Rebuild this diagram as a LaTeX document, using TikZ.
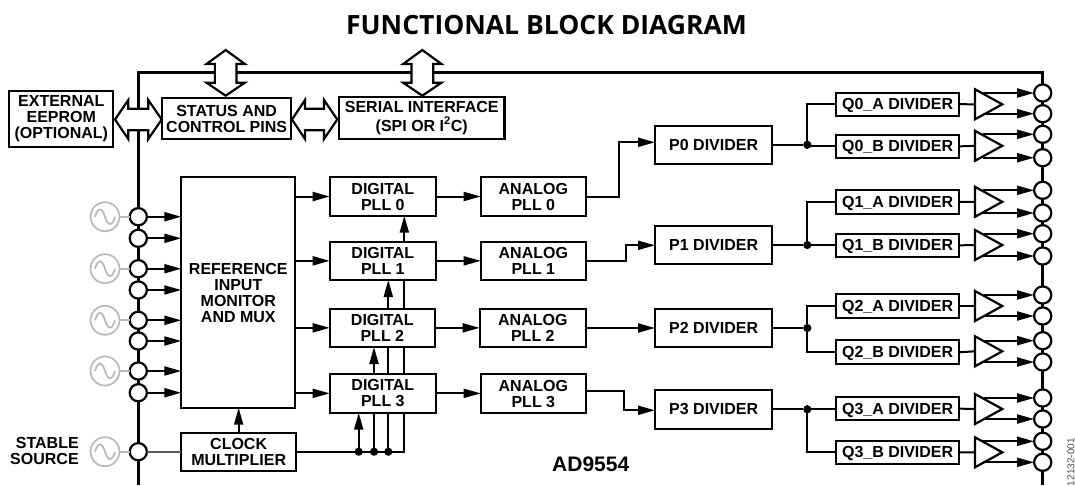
\documentclass[tikz,border=0pt]{standalone}
\usepackage{fontspec}
\setmainfont{Liberation Sans}
\newfontfamily\titlefont{Open Sans}
\usetikzlibrary{arrows.meta,calc,shapes.geometric}
\definecolor{oscgray}{HTML}{B9B9B9}
\newcommand{\blk}[6]{%
  \pgfmathsetmacro{\bw}{#4-#2}\pgfmathsetmacro{\bh}{#5-#3}%
  \pgfmathsetmacro{\bx}{(#2+#4)/2}\pgfmathsetmacro{\by}{(#3+#5)/2}%
  \node[blockbox,minimum width=\bw pt,minimum height=\bh pt] (#1) at (\bx,\by) {#6};}
\newcommand{\nodepth}[1]{\raisebox{0pt}[\height][0pt]{#1}}
\newcommand{\outarrow}[2]{%
  \coordinate (s#2) at ($(#1.lower side)+(7.5,0)$);
  \draw[arr] (s#2 |- #2) -- (#2);}
\newcommand{\sinewave}[1]{%
  \draw[oscline] ($(#1)+(-10,0)$) .. controls ($(#1)+(-6.5,-11.5)$) and ($(#1)+(-2.5,-8)$) .. ($(#1)$)
     .. controls ($(#1)+(2.5,8)$) and ($(#1)+(6.5,11.5)$) .. ($(#1)+(10,0)$);}
% vertical bus arrow: centre x
\newcommand{\vbus}[1]{%
  \draw[bigarrow] (#1,50) -- ++(19.15,14) -- ++(-8.3,0) -- ++(0,18.7) -- ++(8.3,0)
    -- (#1,95.7) -- ++(-19.15,-13) -- ++(8.3,0) -- ++(0,-18.7) -- ++(-8.3,0) -- cycle;}
% horizontal bus arrow: left tip, head end, head start, right tip
\newcommand{\hbus}[4]{%
  \draw[bigarrow] (#1,119.5) -- (#2,100) -- (#2,108.7) -- (#3,108.7) -- (#3,100) -- (#4,119.5)
    -- (#3,139) -- (#3,130.3) -- (#2,130.3) -- (#2,139) -- cycle;}
\tikzset{
  x=1pt,y=-1pt,
  blockbox/.style={draw,line width=2.2pt,fill=white,inner sep=0pt,outer sep=0pt,align=center,
    font=\fontsize{16}{16}\selectfont\bfseries},
  wire/.style={line width=2pt},
  arr/.style={wire,-{Triangle[length=17pt,width=9pt]}},
  frameline/.style={line width=2.6pt},
  port/.style={circle,draw,line width=2.2pt,fill=white,minimum size=17.2pt,inner sep=0pt,outer sep=0pt},
  osc/.style={circle,draw=oscgray,line width=1.7pt,fill=white,minimum size=29pt,inner sep=0pt,outer sep=0pt},
  oscline/.style={draw=oscgray,line width=1.7pt},
  dot/.style={circle,fill,minimum size=8.2pt,inner sep=0pt,outer sep=0pt},
  amp/.style={isosceles triangle,isosceles triangle stretches,draw,line width=2.2pt,fill=white,
    minimum width=30pt,minimum height=27.3pt,inner sep=0pt,outer sep=0pt,anchor=lower side},
  bigarrow/.style={draw,line width=2.2pt,fill=white,line join=miter},
  lbl/.style={inner sep=0pt,outer sep=0pt,align=right,font=\fontsize{16}{16}\selectfont\bfseries},
}
\begin{document}
\begin{tikzpicture}
\useasboundingbox (0,0) rectangle (1075,485);
% frame
\coordinate (fbl) at (138.3,485);
\coordinate (ftl) at (138.3,72.5);
\coordinate (ftr) at (1042.7,72.5);
\coordinate (fbr) at (1042.7,485);
\draw[frameline] (fbl) -- (ftl) -- (ftr) -- (fbr);
% title
\node[inner sep=0pt] (title) at (546.5,25) {\titlefont\fontsize{26.5}{26.5}\selectfont\bfseries FUNCTIONAL BLOCK DIAGRAM};
% big arrows
\vbus{225.7}
\vbus{422.3}
\hbus{115}{128.3}{148.3}{161.7}
\hbus{292}{305}{324}{337.3}
% blocks
\blk{eeprom}{9.3}{91}{113.3}{146.7}{EXTERNAL\\EEPROM\\(OPTIONAL)}
\blk{status}{162}{98.3}{291.3}{139}{STATUS AND\\CONTROL PINS}
\blk{serial}{339}{97}{504.5}{139}{SERIAL INTERFACE\\[2.4pt](SPI OR I\textsuperscript{2}C)}
\blk{ref}{181.3}{177.3}{295.3}{407.7}{REFERENCE\\INPUT\\MONITOR\\AND MUX}
\blk{clk}{181.3}{432.7}{296}{470.7}{CLOCK\\MULTIPLIER}
\blk{d0}{329.7}{177.3}{436}{215.7}{DIGITAL\\PLL 0}
\blk{d1}{329.7}{241.7}{436}{280}{DIGITAL\\PLL 1}
\blk{d2}{329.7}{308.7}{435}{347}{DIGITAL\\PLL 2}
\blk{d3}{329.7}{374}{436}{412.7}{DIGITAL\\PLL 3}
\blk{a0}{480.7}{177.3}{586}{216}{ANALOG\\PLL 0}
\blk{a1}{480.7}{241.7}{586}{279.7}{ANALOG\\PLL 1}
\blk{a2}{479.7}{309}{586}{347}{ANALOG\\PLL 2}
\blk{a3}{480.7}{374.3}{586}{413}{ANALOG\\PLL 3}
\blk{p0}{655}{125.7}{772.3}{163.7}{P0 DIVIDER}
\blk{p1}{655}{225.7}{772.3}{264.3}{P1 DIVIDER}
\blk{p2}{655}{309}{772.3}{347}{P2 DIVIDER}
\blk{p3}{655}{390}{772.3}{428.7}{P3 DIVIDER}
\blk{q0a}{836}{92.7}{959.3}{115.7}{\nodepth{Q0\_A DIVIDER}}
\blk{q0b}{836}{134.7}{959.3}{158}{\nodepth{Q0\_B DIVIDER}}
\blk{q1a}{836}{190.3}{959.3}{213.7}{\nodepth{Q1\_A DIVIDER}}
\blk{q1b}{836}{233.7}{959.3}{257}{\nodepth{Q1\_B DIVIDER}}
\blk{q2a}{836}{294.3}{959.3}{317.7}{\nodepth{Q2\_A DIVIDER}}
\blk{q2b}{836}{340.3}{959.3}{364.3}{\nodepth{Q2\_B DIVIDER}}
\blk{q3a}{836}{397}{959.3}{420.3}{\nodepth{Q3\_A DIVIDER}}
\blk{q3b}{836}{440.7}{959.3}{464}{\nodepth{Q3\_B DIVIDER}}
% input ports
\foreach \n/\y in {i1/216.7,i2/238.3,i3/268.7,i4/290,i5/320.3,i6/341,i7/371,i8/392.7,i9/451.7}
  \node[port] (\n) at (138.3,\y) {};
\foreach \n in {i1,i2,i3,i4,i5,i6,i7,i8}
  \draw[arr] (\n) -- (\n -| ref.west);
\draw[line width=1.6pt,black!65] (i9) -- (clk.west |- i9);
% oscillators
\foreach \n/\p in {o1/i1,o3/i3,o5/i5,o7/i7,o9/i9}{
  \node[osc] (\n) at (105,0 |- \p) {};
  \draw[oscline] (\n) -- (\p);
  \sinewave{\n}
}
% stable source
\node[lbl,anchor=east] (stable) at (78.7,450.5) {STABLE\\SOURCE};
% ref to digital, digital to analog
\foreach \n in {0,1,2,3}{
  \draw[arr] (ref.east |- d\n) -- (d\n.west);
  \draw[arr] (d\n.east) -- (d\n.east -| a\n.west);
}
% clock
\draw[arr] (clk.north) -- (clk.north |- ref.south);
% cascade
\coordinate (j0) at (358.7,451.7);
\coordinate (j1) at (374,451.7);
\coordinate (j2) at (388.3,451.7);
\coordinate (j3) at (404.3,451.7);
\draw[wire] (clk.east |- j0) -- (j3) -- (j3 |- d3.south);
\draw[arr] (j0) -- (j0 |- d3.south);
\draw[wire] (j1) -- (j1 |- d3.south);
\draw[wire] (j2) -- (j2 |- d3.south);
\draw[arr] (j1 |- d3.north) -- (j1 |- d2.south);
\draw[wire] (j2 |- d3.north) -- (j2 |- d2.south);
\draw[wire] (j3 |- d3.north) -- (j3 |- d2.south);
\draw[arr] (j2 |- d2.north) -- (j2 |- d1.south);
\draw[wire] (j3 |- d2.north) -- (j3 |- d1.south);
\draw[arr] (j3 |- d1.north) -- (j3 |- d0.south);
\node[dot] (k0) at (j0) {};
\node[dot] (k1) at (j1) {};
\node[dot] (k2) at (j2) {};
% analog to P
\coordinate (b0) at (619.3,142.3);
\coordinate (b1) at (625.7,245.3);
\coordinate (b3) at (624.3,410.3);
\coordinate (c3) at (586,391);
\draw[arr] (a0.east) -| (b0) -- (b0 -| p0.west);
\draw[arr] (a1.east) -| (b1) -- (b1 -| p1.west);
\draw[arr] (a2.east) -- (a2.east -| p2.west);
\draw[arr] (c3) -| (b3) -- (b3 -| p3.west);
% P to Q
\foreach \p/\qa/\qb in {0/q0a/q0b,1/q1a/q1b,2/q2a/q2b,3/q3a/q3b}{
  \node[dot] (n\p) at (807.3,0 |- p\p) {};
  \draw[wire] (p\p.east) -- (n\p);
  \draw[wire] (n\p) |- (\qa.west);
  \draw[wire] (n\p) |- (\qb.west);
}
% amplifiers
\foreach \t/\y/\q in {t1/104.3/q0a,t2/145.8/q0b,t3/201.8/q1a,t4/245/q1b,t5/306/q2a,t6/351.3/q2b,t7/409/q3a,t8/452.3/q3b}{
  \node[amp] (\t) at (975,\y) {};
  \draw[wire] (\q.east) -- (\t.lower side);
}
% output ports
\foreach \n/\y in {p1/93,p2/113.7,p3/134.3,p4/157.7,p5/190.3,p6/213,p7/233.7,p8/256,p9/295,p10/316,p11/340.7,p12/362,p13/398,p14/419,p15/441.3,p16/462.3}
  \node[port] (out\n) at (1042.7,\y) {};
\outarrow{t1}{outp1}\outarrow{t1}{outp2}\outarrow{t2}{outp3}\outarrow{t2}{outp4}
\outarrow{t3}{outp5}\outarrow{t3}{outp6}\outarrow{t4}{outp7}\outarrow{t4}{outp8}
\outarrow{t5}{outp9}\outarrow{t5}{outp10}\outarrow{t6}{outp11}\outarrow{t6}{outp12}
\outarrow{t7}{outp13}\outarrow{t7}{outp14}\outarrow{t8}{outp15}\outarrow{t8}{outp16}
% labels
\node[inner sep=0pt,font=\fontsize{21}{22}\selectfont\bfseries] (chip) at (590.7,464) {AD9554};
\node[inner sep=0pt,rotate=90,anchor=east,text=black!70,font=\fontsize{10}{10}\selectfont] (docnum) at (1071,438) {12132-001};
\end{tikzpicture}
\end{document}
